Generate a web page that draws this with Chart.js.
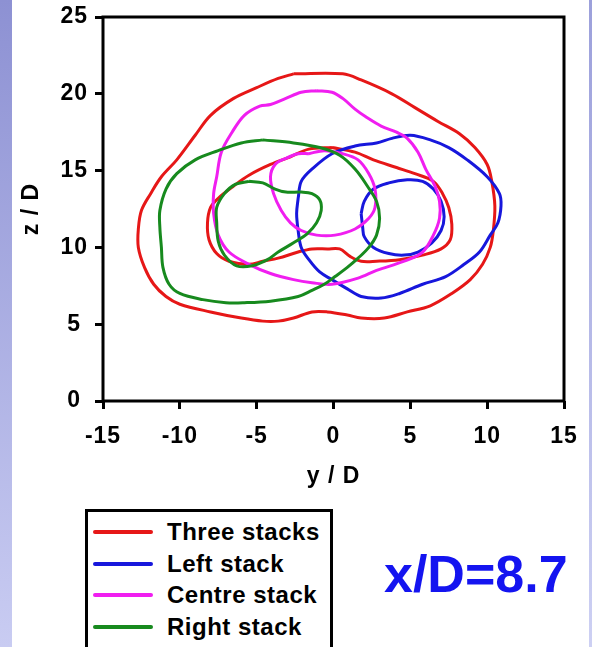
<!DOCTYPE html>
<html>
<head>
<meta charset="utf-8">
<title>x/D=8.7</title>
<script src="https://cdn.jsdelivr.net/npm/chart.js@4/dist/chart.umd.min.js"></script>
<style>
  html, body { margin: 0; padding: 0; }
  body {
    width: 592px; height: 647px; position: relative; overflow: hidden;
    background: #fff;
    font-family: "Liberation Sans", Arial, sans-serif;
  }
  .edge-left { position: absolute; left: 0; top: 0; width: 12px; height: 647px; background: linear-gradient(#8d91d3, #c9ccf2); }
  .edge-right { position: absolute; right: 0; top: 0; width: 3px; height: 647px; background: linear-gradient(#9ca0db, #cdd0f3); }
  #chart { position: absolute; left: 0; top: 0; }
  #legend {
    position: absolute; left: 85px; top: 509px; width: 248px; height: 150px;
    border: 3px solid #000; box-sizing: border-box; background: #fff;
  }
  .item { position: absolute; left: 5px; height: 30px; display: flex; align-items: center; font-weight: bold; font-size: 24px; letter-spacing: 0.5px; color: #000; white-space: nowrap; }
  .item .line { width: 60px; height: 4px; margin-right: 14px; border-radius: 2px; }
  #label { position: absolute; left: 384px; top: 548px; font: bold 52px/1 "Liberation Sans", Arial, sans-serif; color: #1414f0; }
</style>
</head>
<body>
<div class="edge-left"></div>
<div class="edge-right"></div>
<canvas id="chart" width="592" height="490"></canvas>
<div id="legend"></div>
<div id="label">x/D=8.7</div>
<script>
const categories = ["Three stacks", "Left stack", "Centre stack", "Right stack"];
const xTicks = [-15, -10, -5, 0, 5, 10, 15];
const yTicks = [0, 5, 10, 15, 20, 25];

// contour points, [y/D, z/D]
const threeOuter = [[-2.6,21.3],[0.6,21.3],[1.8,20.9],[3.8,20.0],[5.3,19.1],[6.8,18.2],[8.2,17.4],[9.2,16.5],[10.0,15.4],[10.3,14.3],[10.5,12.7],[10.4,11.1],[10.2,10.0],[9.7,8.9],[8.9,7.9],[7.7,7.0],[6.3,6.2],[4.8,5.8],[3.3,5.4],[1.8,5.4],[0.9,5.6],[-0.4,5.8],[-1.4,5.8],[-2.6,5.4],[-3.6,5.2],[-4.6,5.2],[-6.0,5.4],[-8.0,5.8],[-10.0,6.3],[-10.9,6.8],[-11.7,7.6],[-12.3,8.7],[-12.7,10.0],[-12.7,11.2],[-12.5,12.4],[-11.9,13.5],[-11.2,14.6],[-10.2,15.7],[-9.0,17.3],[-8.0,18.6],[-6.5,19.7],[-5.0,20.4],[-3.6,21.0]];
const threeInner = [[-0.1,16.5],[1.4,16.2],[2.6,15.7],[4.1,15.2],[5.3,14.8],[6.5,14.3],[7.1,13.5],[7.5,12.6],[7.7,11.5],[7.6,10.5],[7.0,9.9],[5.8,9.5],[4.3,9.2],[2.8,9.1],[1.8,9.1],[1.1,9.4],[0.4,9.9],[-0.4,9.9],[-1.4,9.9],[-2.3,9.7],[-3.6,9.3],[-4.6,9.1],[-5.5,8.9],[-6.8,9.1],[-7.6,9.6],[-8.1,10.5],[-8.2,11.6],[-8.0,12.6],[-7.5,13.2],[-6.5,14.0],[-5.5,14.7],[-4.1,15.4],[-2.8,15.9],[-1.6,16.4]];
const leftOuter = [[-2.3,13.2],[-2.1,14.3],[-1.4,15.1],[-0.1,16.1],[1.4,16.6],[2.8,16.8],[3.8,17.1],[5.0,17.3],[6.3,17.0],[7.5,16.5],[8.7,15.7],[10.0,14.6],[10.8,13.5],[10.9,12.7],[10.7,11.6],[10.2,10.8],[9.5,9.7],[8.5,8.9],[7.3,8.1],[5.8,7.6],[4.3,7.0],[3.1,6.7],[1.8,6.8],[0.9,7.3],[-0.1,7.9],[-0.9,8.4],[-1.6,9.2],[-2.1,10.0],[-2.3,11.1],[-2.4,12.2]];
const leftInner = [[1.8,12.2],[2.0,13.0],[2.6,13.8],[3.6,14.2],[4.8,14.4],[5.8,14.3],[6.5,13.8],[7.0,13.0],[7.2,12.0],[7.0,11.1],[6.4,10.3],[5.5,9.7],[4.6,9.5],[3.6,9.6],[2.6,10.0],[2.0,10.7],[1.9,11.3]];
const centreOuter = [[-1.1,20.2],[-0.1,20.1],[0.6,19.7],[1.4,19.0],[2.1,18.5],[3.1,17.9],[4.1,17.5],[4.8,17.1],[5.5,16.2],[6.0,15.1],[6.6,14.0],[6.9,13.0],[6.9,11.9],[6.5,10.8],[5.8,9.7],[4.6,9.1],[2.8,8.5],[1.6,8.0],[-0.1,7.6],[-1.4,7.7],[-2.6,7.9],[-4.1,8.3],[-5.5,8.9],[-6.8,9.7],[-7.5,10.8],[-7.8,12.2],[-7.8,13.5],[-7.6,14.6],[-7.3,16.2],[-6.6,17.5],[-5.8,18.6],[-4.8,19.2],[-4.1,19.3],[-3.1,19.7],[-2.1,20.1]];
const centreInner = [[-1.6,16.1],[-0.6,16.3],[0.6,16.1],[1.6,15.7],[2.3,14.8],[2.7,13.8],[2.7,12.6],[2.3,11.9],[1.4,11.2],[0.1,10.8],[-1.1,10.8],[-2.1,11.1],[-2.8,11.6],[-3.4,12.4],[-3.9,13.5],[-4.1,14.6],[-3.8,15.4],[-3.1,15.8],[-2.3,16.1]];
const rightOuter = [[-4.6,17.0],[-2.6,16.8],[-0.9,16.5],[0.4,16.0],[1.4,15.1],[2.2,14.0],[2.8,13.0],[3.0,11.9],[2.8,10.8],[2.3,10.0],[1.6,9.3],[0.9,8.7],[0.1,8.1],[-0.6,7.6],[-1.4,7.2],[-2.3,6.8],[-4.1,6.5],[-5.8,6.4],[-7.0,6.4],[-8.5,6.6],[-10.0,7.0],[-10.7,7.6],[-11.1,8.7],[-11.2,10.0],[-11.3,11.3],[-11.3,12.4],[-10.9,13.8],[-10.2,14.8],[-9.0,15.7],[-7.5,16.3],[-6.0,16.8]];
const rightInner = [[-5.5,14.3],[-4.6,14.2],[-3.8,13.8],[-3.1,13.6],[-2.1,13.6],[-1.4,13.5],[-0.9,13.1],[-0.8,12.4],[-1.1,11.6],[-1.7,10.9],[-2.6,10.3],[-3.6,9.7],[-4.3,9.2],[-5.3,8.8],[-6.3,8.8],[-7.1,9.5],[-7.5,10.4],[-7.6,11.6],[-7.6,12.6],[-7.1,13.5],[-6.4,14.1]];

const contours = [
  [threeOuter, threeInner],
  [leftOuter, leftInner],
  [centreOuter, centreInner],
  [rightOuter, rightInner]
];
const colours = ["#e61717", "#1717dc", "#f01ef0", "#178a1e"];

// close each loop
function loop(pts) {
  return pts.concat([pts[0]]).map(p => ({ x: p[0], y: p[1] }));
}

let datasets = [];
categories.forEach((name, i) => {
  contours[i].forEach(c => {
    datasets.push({
      label: name,
      data: loop(c),
      showLine: true,
      borderColor: colours[i],
      backgroundColor: colours[i],
      borderWidth: 3,
      pointRadius: 0,
      tension: 0.35,
      fill: false,
      order: categories.length - i
    });
  });
});

// html legend
const legend = document.getElementById("legend");
categories.forEach((name, i) => {
  let row = document.createElement("div");
  row.className = "item";
  row.style.top = (5 + i * 31.5) + "px";
  row.innerHTML = '<span class="line" style="background:' + colours[i] + '"></span>' + name;
  legend.appendChild(row);
});

const spacing = {
  id: "spacing",
  beforeUpdate(chart) { chart.ctx.letterSpacing = "1px"; },
  beforeDraw(chart) { chart.ctx.letterSpacing = "1px"; }
};

const frame = {
  id: "frame",
  afterDatasetsDraw(chart) {
    const { ctx, chartArea: a } = chart;
    ctx.save();
    ctx.strokeStyle = "#000";
    ctx.lineWidth = 3;
    ctx.strokeRect(a.left, a.top, a.right - a.left, a.bottom - a.top);
    ctx.restore();
  }
};

const font = { family: "'Liberation Sans', Arial, sans-serif", size: 23, weight: "bold" };

new Chart(document.getElementById("chart"), {
  type: "scatter",
  data: { datasets },
  options: {
    responsive: false,
    animation: false,
    devicePixelRatio: 1,
    layout: { padding: { top: 17, right: 28, left: 0, bottom: 0 } },
    plugins: { legend: { display: false }, tooltip: { enabled: false } },
    scales: {
      x: {
        type: "linear",
        min: -15,
        max: 15,
        afterBuildTicks: s => { s.ticks = xTicks.map(v => ({ value: v })); },
        afterFit: s => { s.height = 89; s.paddingLeft = 0; s.paddingRight = 0; },
        ticks: { font, color: "#000", padding: 14, maxRotation: 0 },
        grid: { drawOnChartArea: false, drawTicks: true, tickLength: 8, tickWidth: 3, tickColor: "#000" },
        border: { display: false },
        title: { display: true, text: "y / D", font, color: "#000", padding: { top: 0, bottom: 0 } }
      },
      y: {
        type: "linear",
        min: 0,
        max: 25,
        afterBuildTicks: s => { s.ticks = yTicks.map(v => ({ value: v })); },
        afterFit: s => { s.width = 103; s.paddingTop = 0; s.paddingBottom = 0; },
        ticks: { font, color: "#000", padding: 7, crossAlign: "center" },
        grid: { drawOnChartArea: false, drawTicks: true, tickLength: 8, tickWidth: 3, tickColor: "#000" },
        border: { display: false },
        title: { display: true, text: "z / D", font, color: "#000", padding: { top: 18, bottom: 0 } }
      }
    }
  },
  plugins: [spacing, frame]
});
</script>
</body>
</html>
